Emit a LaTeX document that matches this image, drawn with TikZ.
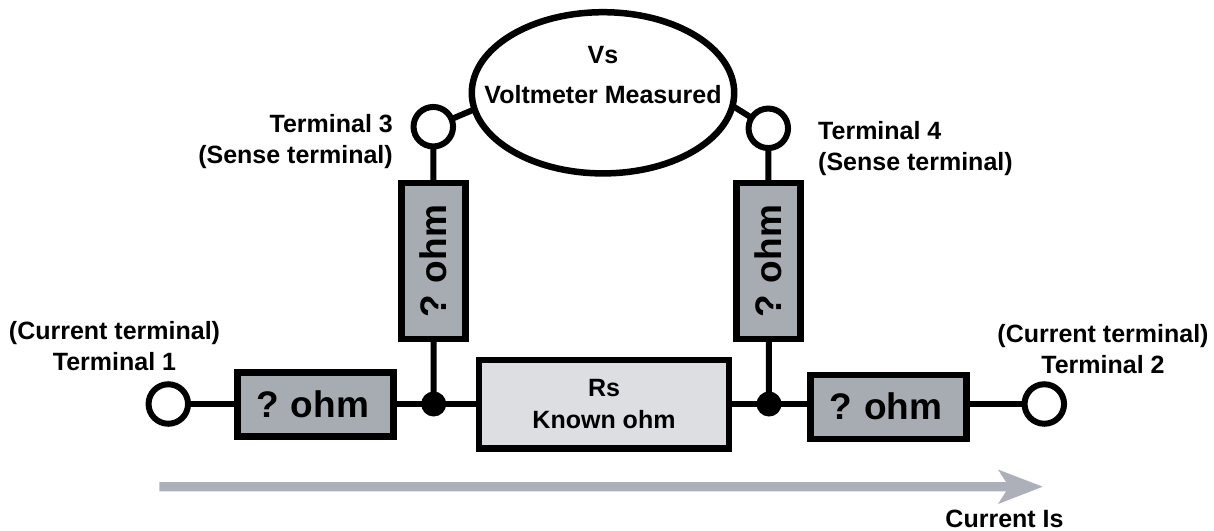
\documentclass[tikz,border=0pt]{standalone}
\usepackage{fontspec}
\setmainfont{Liberation Sans}
\definecolor{boxgray}{HTML}{A7ABB2}
\definecolor{lightgray2}{HTML}{DCDEE2}
\definecolor{arrowgray}{HTML}{ADB0B9}
\newcommand{\tightwordgap}{\spaceskip 8.3pt\relax}
\tikzset{
  wire/.style={line width=6pt,black},
  termc/.style={circle,draw=black,fill=white,line width=6pt,minimum size=39.5pt,inner sep=0pt,outer sep=0pt},
  junction/.style={circle,fill=black,minimum size=25pt,inner sep=0pt,outer sep=0pt},
  unkbox/.style={rectangle,draw=black,fill=boxgray,line width=6.5pt,minimum width=156pt,minimum height=64pt,inner sep=0pt,outer sep=0pt,font=\fontsize{37}{40}\selectfont\bfseries\tightwordgap},
  lab/.style={inner sep=0pt,font=\fontsize{25}{31}\selectfont\bfseries,align=center}
}
\begin{document}
\begin{tikzpicture}[x=1pt,y=-1pt]
\useasboundingbox (0,0) rectangle (1214,530);
% connectors first, beneath the nodes
\coordinate (t1c) at (168.3,404);
\coordinate (t2c) at (1044.3,404);
\coordinate (t3c) at (433.3,126.7);
\coordinate (t4c) at (768.3,128.3);
\coordinate (j1c) at (433.7,404);
\coordinate (j2c) at (769,404);
\coordinate (vl) at (480,107);
\coordinate (vr) at (728,103);
\draw[wire] (t1c) -- (j1c) -- (j2c) -- (t2c);
\draw[wire] (t3c) -- (j1c);
\draw[wire] (t4c) -- (j2c);
\draw[wire] (t3c) -- (vl);
\draw[wire] (t4c) -- (vr);
% nodes
\node[termc] (t1) at (t1c) {};
\node[termc] (t2) at (t2c) {};
\node[termc] (t3) at (t3c) {};
\node[termc] (t4) at (t4c) {};
\node[junction] (j1) at (j1c) {};
\node[junction] (j2) at (j2c) {};
\node[unkbox] (b1) at (315.3,404.3) {\hspace*{-5pt}? ohm};
\node[unkbox] (b2) at (888.7,407.2) {\hspace*{-5pt}\raisebox{3pt}{? ohm}};
\node[unkbox,rotate=90] (b3) at (433.5,261.2) {? ohm};
\node[unkbox,rotate=90] (b4) at (768.3,261.2) {? ohm};
\node[rectangle,draw=black,fill=lightgray2,line width=6.5pt,minimum width=250pt,minimum height=88.5pt,inner sep=0pt,outer sep=0pt,font=\fontsize{25}{32}\selectfont\bfseries,align=center] (rs) at (604,404.2) {Rs\\Known ohm};
\draw[line width=6.5pt,draw=black,fill=white] (603,92.8) ellipse [x radius=131.2,y radius=80.6];
\node[inner sep=0pt,font=\fontsize{25}{25}\selectfont\bfseries] (vs) at (603,55.5) {Vs};
\node[inner sep=0pt,font=\fontsize{25}{25}\selectfont\bfseries] (vm) at (603,95) {Voltmeter Measured};
% current arrow
\fill[arrowgray] (159.3,482) -- (1006,482) -- (998,469.5) -- (1042.7,486.7) -- (998,504) -- (1006,491.4) -- (159.3,491.4) -- cycle;
% labels
\node[lab,align=right,anchor=north east] (l3) at (393,114.5) {Terminal 3\\(Sense terminal)};
\node[lab,align=left,anchor=north west] (l4) at (818,121) {Terminal 4\\(Sense terminal)};
\node[lab] (l1) at (114.5,346) {(Current terminal)\\Terminal 1};
\node[lab] (l2) at (1103,349) {(Current terminal)\\Terminal 2};
\node[lab] (li) at (1004.5,518.5) {Current Is};
\end{tikzpicture}
\end{document}
